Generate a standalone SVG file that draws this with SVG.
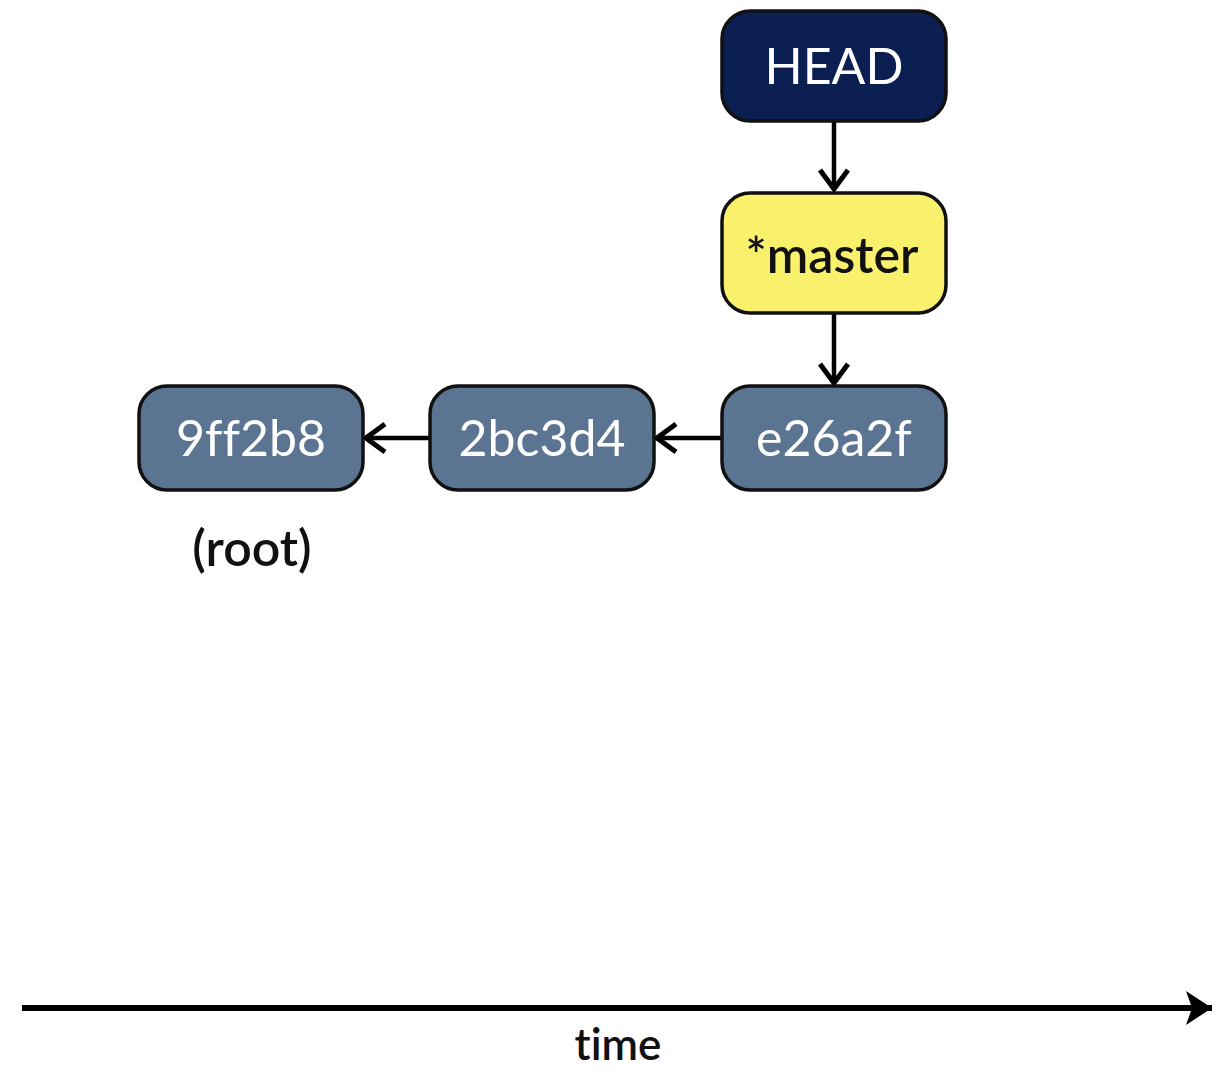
<svg xmlns="http://www.w3.org/2000/svg" width="1231" height="1070" viewBox="0 0 1231 1070">
<style>
.box{stroke:#111;stroke-width:3.5}
.head{fill:#0b1f52}
.branch{fill:#f9f06c}
.commit{fill:#5b7491}
.lbl{font-family:Lato,"Open Sans","Liberation Sans",sans-serif;font-size:50px;text-anchor:middle;font-variant-ligatures:none}
.w{fill:#fff}
.k{fill:#111}
.conn{stroke:#000;stroke-width:4.5;fill:none}
</style>
<defs>
<marker id="chev" markerUnits="userSpaceOnUse" viewBox="0 0 26 34" markerWidth="26" markerHeight="34" refX="22" refY="17" orient="auto">
<path d="M3,3 L22,17 L3,31" fill="none" stroke="#000" stroke-width="5"/>
</marker>
<marker id="tri" markerUnits="userSpaceOnUse" viewBox="0 0 30 36" markerWidth="30" markerHeight="36" refX="28" refY="18" orient="auto">
<path d="M2,1 L28,18 L2,35 L8,18 Z" fill="#000"/>
</marker>
</defs>
<g id="connectors">
<line class="conn" x1="834" y1="122" x2="834" y2="189" marker-end="url(#chev)"/>
<line class="conn" x1="834" y1="314" x2="834" y2="383" marker-end="url(#chev)"/>
<line class="conn" x1="721" y1="438" x2="657" y2="438" marker-end="url(#chev)"/>
<line class="conn" x1="429" y1="438" x2="366" y2="438" marker-end="url(#chev)"/>
</g>
<g id="node-head">
<rect class="box head" x="722" y="11" width="224" height="110" rx="28"/>
<text class="lbl w" x="834" y="84">HEAD</text>
</g>
<g id="node-master">
<rect class="box branch" x="722" y="193" width="224" height="120" rx="28"/>
<text class="lbl k" x="832" y="273" style="font-weight:600">*master</text>
</g>
<g id="node-e26a2f">
<rect class="box commit" x="722" y="386" width="224" height="104" rx="28"/>
<text class="lbl w" x="834" y="456">e26a2f</text>
</g>
<g id="node-2bc3d4">
<rect class="box commit" x="430" y="386" width="224" height="104" rx="28"/>
<text class="lbl w" x="542" y="456">2bc3d4</text>
</g>
<g id="node-9ff2b8">
<rect class="box commit" x="139" y="386" width="224" height="104" rx="28"/>
<text class="lbl w" x="251" y="456">9ff2b8</text>
</g>
<text class="lbl k" x="252" y="566" style="font-weight:600">(root)</text>
<g id="time-axis">
<line x1="22" y1="1008" x2="1212" y2="1008" stroke="#000" stroke-width="6" marker-end="url(#tri)"/>
<text class="lbl k" x="618" y="1060" style="font-size:44px;font-weight:600">time</text>
</g>
</svg>
